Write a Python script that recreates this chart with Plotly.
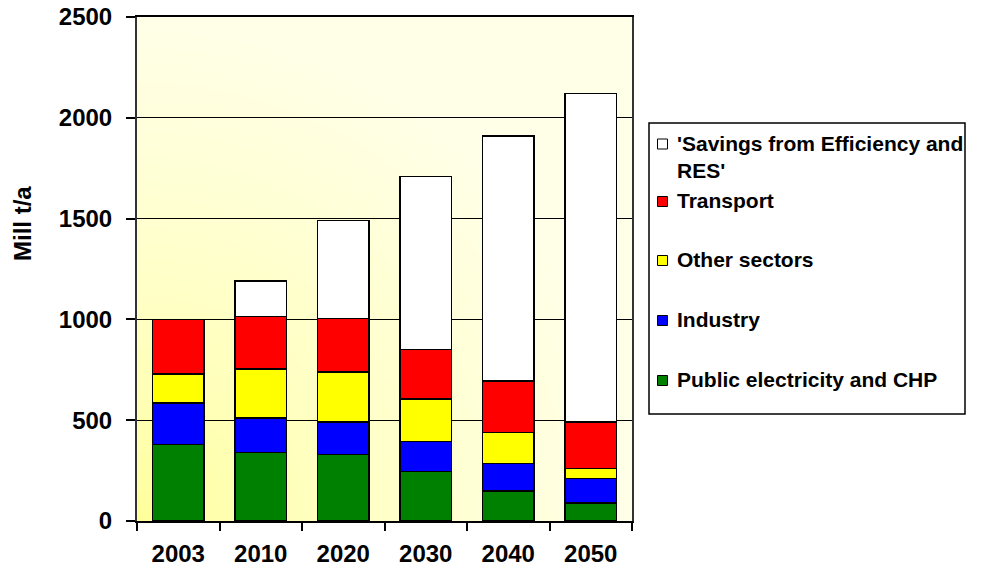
import base64
import math
import struct
import zlib

import plotly.graph_objects as go

# ---- data (Mill t/a) ----
years = ["2003", "2010", "2020", "2030", "2040", "2050"]
public_chp = [380, 340, 330, 245, 150, 90]
industry = [205, 170, 160, 150, 135, 120]
other_sectors = [145, 245, 250, 210, 155, 50]
transport = [270, 260, 265, 245, 255, 230]
savings = [0, 175, 485, 860, 1215, 1630]

series_names = [
    "Public electricity and CHP",
    "Industry",
    "Other sectors",
    "Transport",
    "'Savings from Efficiency and RES'",
]
series_colors = ["#008000", "#0000FF", "#FFFF00", "#FF0000", "#FFFFFF"]
series_values = [public_chp, industry, other_sectors, transport, savings]

FONT = "Liberation Sans, Arial, sans-serif"
W, H = 982, 579
L, R, T, B = 137, 350, 17, 58
PW, PH = W - L - R, H - T - B


def px_x(px):
    return (px - L) / PW


def px_y(py):
    return (H - B - py) / PH


# ---- soft yellow gradient for the plot area (brightest in the lower-left corner) ----
def gradient_png(n=128):
    rows = []
    for j in range(n):
        v = 1 - j / (n - 1)
        row = bytearray([0])
        for i in range(n):
            u = i / (n - 1)
            d = min(1.0, math.hypot(u, v))
            b = int(round(152 + 80 * d ** 0.7))
            row += bytes([255, 255, b])
        rows.append(bytes(row))
    raw = b"".join(rows)

    def chunk(tag, data):
        c = tag + data
        return struct.pack(">I", len(data)) + c + struct.pack(">I", zlib.crc32(c) & 0xFFFFFFFF)

    png = b"\x89PNG\r\n\x1a\n"
    png += chunk(b"IHDR", struct.pack(">IIBBBBB", n, n, 8, 2, 0, 0, 0))
    png += chunk(b"IDAT", zlib.compress(raw, 9))
    png += chunk(b"IEND", b"")
    return "data:image/png;base64," + base64.b64encode(png).decode()


fig = go.Figure()
for name, color, vals in zip(series_names, series_colors, series_values):
    fig.add_trace(
        go.Bar(
            x=years,
            y=vals,
            name=name,
            marker=dict(color=color, line=dict(color="#000000", width=1.5)),
            showlegend=False,
        )
    )

fig.add_layout_image(
    dict(
        source=gradient_png(),
        xref="paper", yref="paper",
        x=0, y=1, sizex=1, sizey=1,
        sizing="stretch", layer="below",
    )
)

# ---- legend box drawn on the right ----
shapes = [
    dict(
        type="rect", xref="paper", yref="paper",
        x0=px_x(649), x1=px_x(965), y0=px_y(414), y1=px_y(123),
        line=dict(color="#000000", width=1.5), fillcolor="#FFFFFF",
    )
]
annotations = []
legend_rows = [
    # (series index, label, centre of the label block, square centre)
    (4, "'Savings from Efficiency and<br>RES'", 156.7, 144),
    (3, "Transport", 200.5, 201.5),
    (2, "Other sectors", 259.5, 260.5),
    (1, "Industry", 319.5, 320.5),
    (0, "Public electricity and CHP", 379.5, 380.5),
]
for idx, label, ty, sy in legend_rows:
    shapes.append(
        dict(
            type="rect", xref="paper", yref="paper",
            x0=px_x(657.5), x1=px_x(667.5), y0=px_y(sy + 5), y1=px_y(sy - 5),
            line=dict(color="#000000", width=1), fillcolor=series_colors[idx],
        )
    )
    annotations.append(
        dict(
            text=label, xref="paper", yref="paper",
            x=px_x(675), y=px_y(ty), align="left",
            xanchor="left", yanchor="middle", showarrow=False,
            font=dict(family=FONT, size=21, color="#000000", weight="bold"),
        )
    )

annotations.append(
    dict(
        text="Mill t/a", xref="paper", yref="paper",
        x=px_x(22), y=px_y(224), textangle=-90,
        xanchor="center", yanchor="middle", showarrow=False,
        font=dict(family=FONT, size=24, color="#000000", weight="bold"),
    )
)

fig.update_layout(
    width=W, height=H,
    margin=dict(l=L, r=R, t=T, b=B, pad=0),
    barmode="stack",
    bargap=0.37,
    paper_bgcolor="#FFFFFF",
    plot_bgcolor="rgba(0,0,0,0)",
    shapes=shapes,
    annotations=annotations,
    showlegend=False,
)
fig.update_xaxes(
    type="category",
    automargin=False,
    showgrid=False,
    showline=True, linecolor="#000000", linewidth=2, mirror=True,
    ticks="outside", tickson="boundaries", ticklen=8, tickwidth=1.5, tickcolor="#000000",
    ticklabelstandoff=10,
    tickfont=dict(family=FONT, size=24, color="#000000", weight="bold"),
)
fig.update_yaxes(
    range=[0, 2500], dtick=500,
    automargin=False,
    showgrid=True, gridcolor="#000000", gridwidth=1,
    zeroline=False,
    showline=True, linecolor="#333333", linewidth=2, mirror=True,
    ticks="outside", ticklen=9, tickwidth=1.5, tickcolor="#000000",
    ticklabelstandoff=9,
    tickfont=dict(family=FONT, size=24, color="#000000", weight="bold"),
)

fig.write_html("out.html")
